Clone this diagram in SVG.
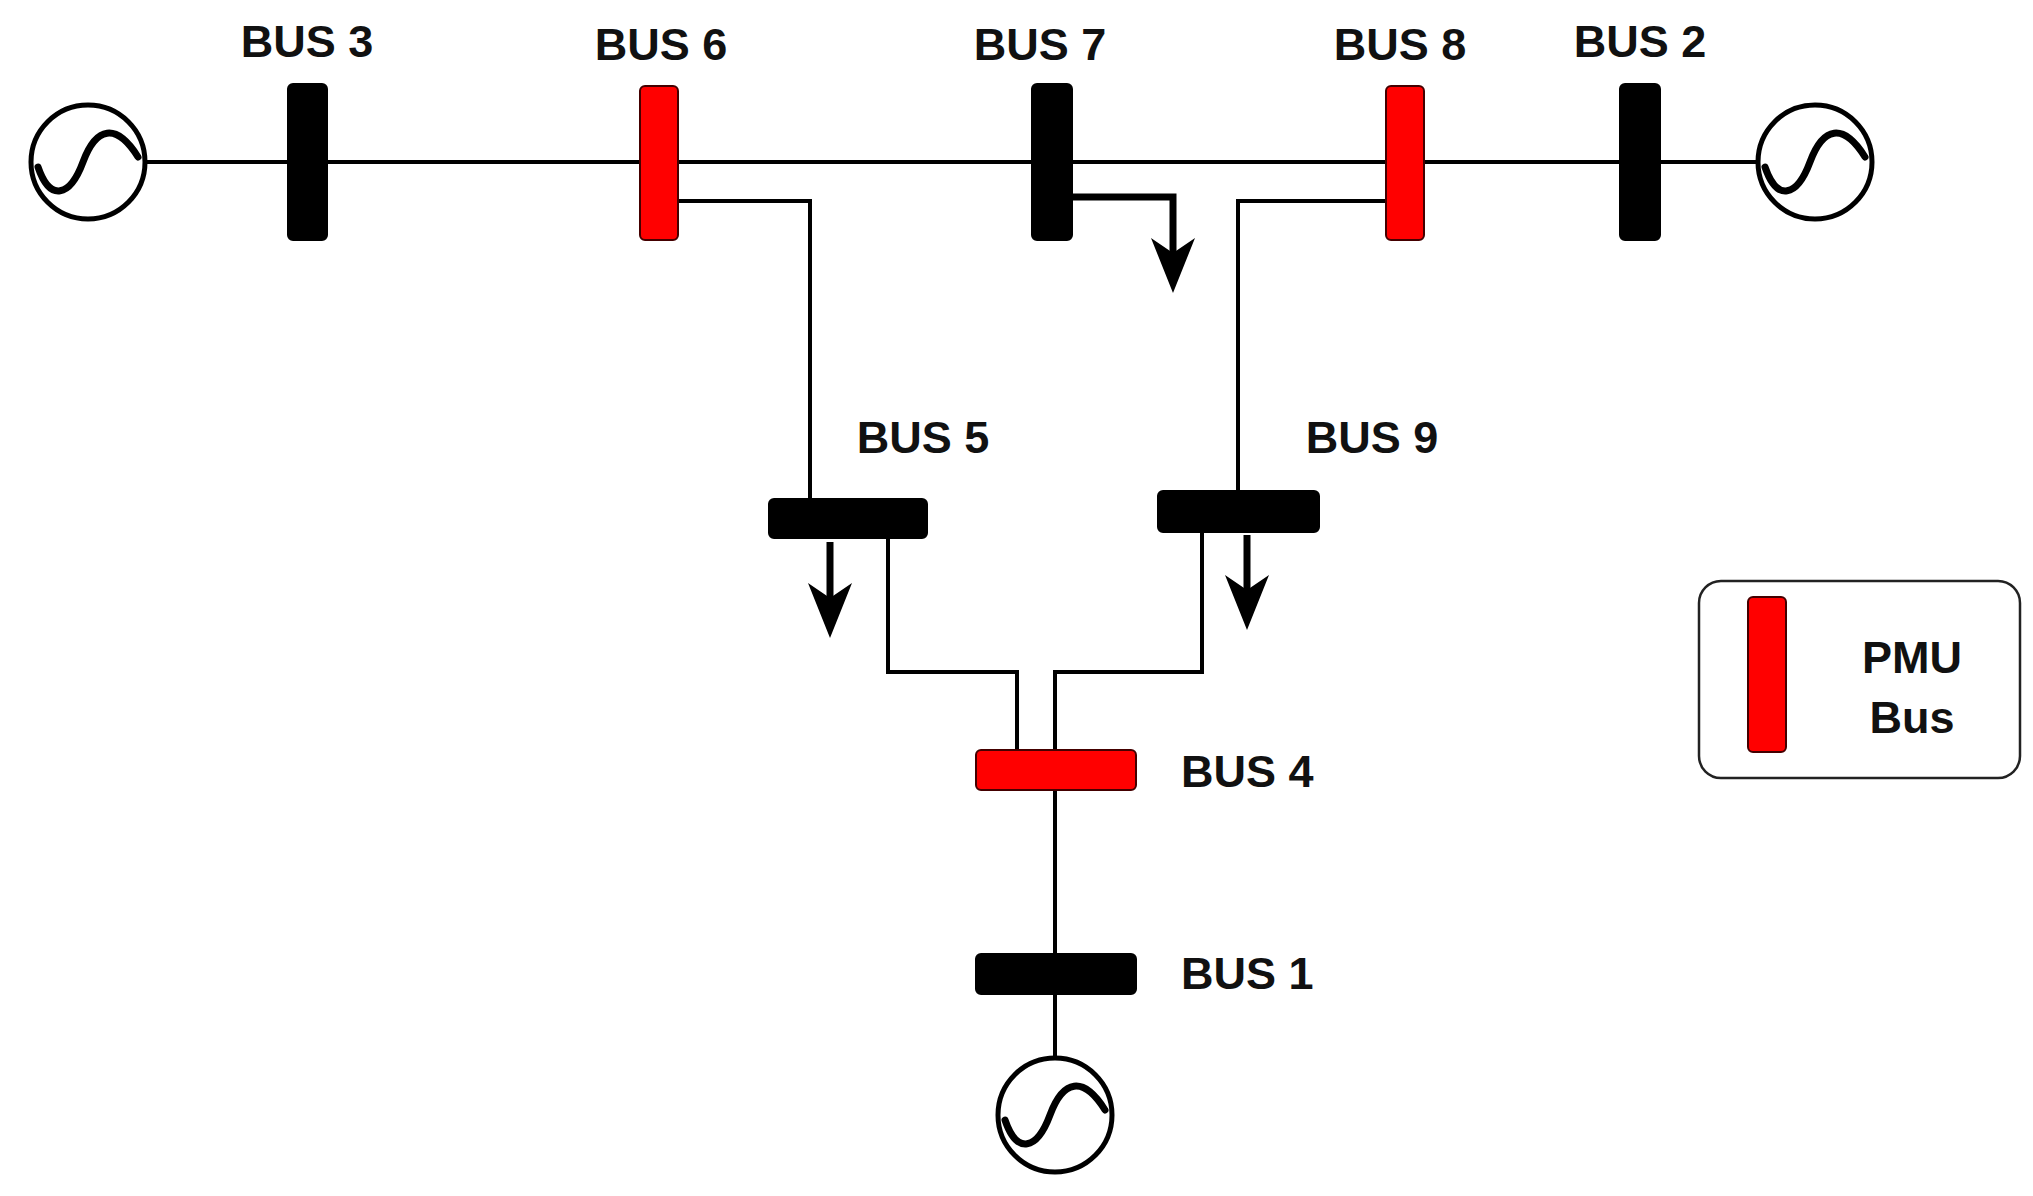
<svg xmlns="http://www.w3.org/2000/svg" width="2033" height="1196" viewBox="0 0 2033 1196">
<style>
.ln{fill:none;stroke:#000;stroke-width:4}
.ld{fill:none;stroke:#000;stroke-width:7}
.ah{fill:#000}
.bk{fill:#000;stroke:#000;stroke-width:2}
.rd{fill:#f00;stroke:#400;stroke-width:2}
.gen{fill:#fff;stroke:#000;stroke-width:5}
.sin{fill:none;stroke:#000;stroke-width:7;stroke-linecap:round}
.t{font-family:"Liberation Sans",Arial,sans-serif;font-weight:bold;font-size:45px;fill:#111}
</style>
<defs>
<g id="g"><circle r="57" class="gen"/><path class="sin" d="M-50,5 C-38,40 -18,35 -5,0 C8,-35 28,-40 50,-5"/></g>
<path id="ah" class="ah" d="M-22,-55 L0,0 L22,-55 L0,-40 z"/>
</defs>
<rect width="2033" height="1196" fill="#fff"/>
<g id="connectors">
<line class="ln" x1="145" y1="162" x2="1758" y2="162"/>
<polyline class="ln" points="679,201 810,201 810,499"/>
<polyline class="ln" points="1385,201 1238,201 1238,493"/>
<polyline class="ld" points="1072,197 1173,197 1173,260"/>
<use href="#ah" x="1173" y="293"/>
<line class="ld" x1="830" y1="542" x2="830" y2="605"/>
<use href="#ah" x="830" y="638"/>
<line class="ld" x1="1247" y1="535" x2="1247" y2="597"/>
<use href="#ah" x="1247" y="630"/>
<polyline class="ln" points="888,538 888,672 1017,672 1017,750"/>
<polyline class="ln" points="1202,532 1202,672 1055,672 1055,750"/>
<line class="ln" x1="1055" y1="790" x2="1055" y2="1058"/>
</g>
<g id="gen3"><use href="#g" x="88" y="162"/></g>
<g id="gen2"><use href="#g" x="1815" y="162"/></g>
<g id="gen1"><use href="#g" x="1055" y="1115"/></g>
<g id="bus3"><rect class="bk" x="288" y="84" width="39" height="156" rx="5"/><text class="t" x="307" y="57" text-anchor="middle">BUS 3</text></g>
<g id="bus6"><rect class="rd" x="640" y="86" width="38" height="154" rx="5"/><text class="t" x="661" y="60" text-anchor="middle">BUS 6</text></g>
<g id="bus7"><rect class="bk" x="1032" y="84" width="40" height="156" rx="5"/><text class="t" x="1040" y="60" text-anchor="middle">BUS 7</text></g>
<g id="bus8"><rect class="rd" x="1386" y="86" width="38" height="154" rx="5"/><text class="t" x="1400" y="60" text-anchor="middle">BUS 8</text></g>
<g id="bus2"><rect class="bk" x="1620" y="84" width="40" height="156" rx="5"/><text class="t" x="1640" y="57" text-anchor="middle">BUS 2</text></g>
<g id="bus5"><rect class="bk" x="769" y="499" width="158" height="39" rx="5"/><text class="t" x="923" y="453" text-anchor="middle">BUS 5</text></g>
<g id="bus9"><rect class="bk" x="1158" y="491" width="161" height="41" rx="5"/><text class="t" x="1372" y="453" text-anchor="middle">BUS 9</text></g>
<g id="bus4"><rect class="rd" x="976" y="750" width="160" height="40" rx="5"/><text class="t" x="1181" y="787">BUS 4</text></g>
<g id="bus1"><rect class="bk" x="976" y="954" width="160" height="40" rx="5"/><text class="t" x="1181" y="989">BUS 1</text></g>
<g id="legend"><rect x="1699" y="581" width="321" height="197" rx="22" fill="#fff" stroke="#222" stroke-width="2.5"/><rect class="rd" x="1748" y="597" width="38" height="155" rx="5"/><text class="t" x="1912" y="673" text-anchor="middle">PMU</text><text class="t" x="1912" y="733" text-anchor="middle">Bus</text></g>
</svg>
